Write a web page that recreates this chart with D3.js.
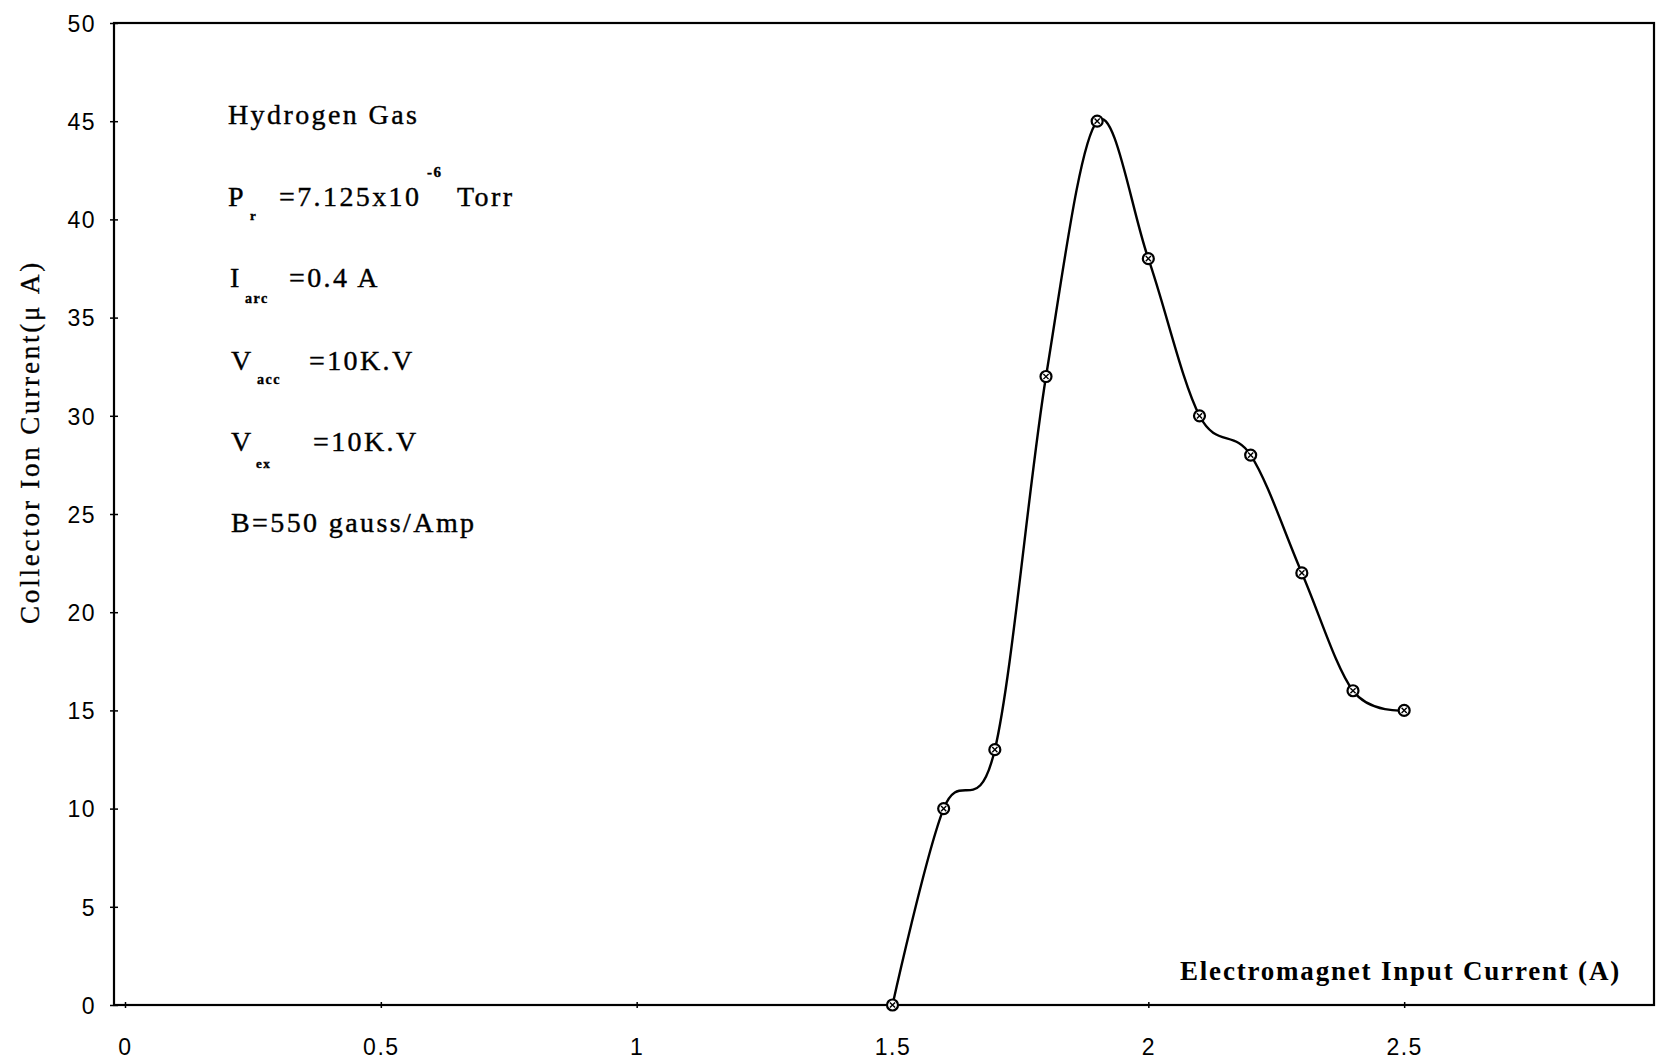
<!DOCTYPE html>
<html>
<head>
<meta charset="utf-8">
<script src="https://cdn.jsdelivr.net/npm/d3@7"></script>
<style>
  html, body { margin: 0; padding: 0; background: #fff; }
  svg { display: block; }
</style>
</head>
<body>
<svg id="chart" width="1656" height="1062"></svg>
<script>
// ---- data ----
const magnetCurrent = [1.5, 1.6, 1.7, 1.8, 1.9, 2.0, 2.1, 2.2, 2.3, 2.4, 2.5];
const ionCurrent    = [0, 10, 13, 32, 45, 38, 30, 28, 22, 16, 15];
const xTicks = [0, 0.5, 1, 1.5, 2, 2.5];
const xTickLabels = ["0", "0.5", "1", "1.5", "2", "2.5"];
const yTicks = [0, 5, 10, 15, 20, 25, 30, 35, 40, 45, 50];
const yTickLabels = ["0", "5", "10", "15", "20", "25", "30", "35", "40", "45", "50"];
const xTitle = "Electromagnet Input Current (A)";
const yTitle = "Collector Ion Current(\u03bc A)";

// ---- layout ----
const svg = d3.select("#chart");
const frame = {left: 114, top: 23, right: 1654, bottom: 1005};
const x = d3.scaleLinear().domain([0, 3]).range([125, 1660]);
const y = d3.scaleLinear().domain([0, 50]).range([frame.bottom, frame.top]);

const serif = "'Liberation Serif', 'Times New Roman', serif";
const sans = "'Liberation Sans', Arial, sans-serif";

// frame (plot area border)
svg.append("rect")
  .attr("x", frame.left).attr("y", frame.top)
  .attr("width", frame.right - frame.left)
  .attr("height", frame.bottom - frame.top)
  .attr("fill", "none").attr("stroke", "#000").attr("stroke-width", 2.2);

// y axis ticks + labels
const yAxis = d3.axisLeft(y).tickValues(yTicks)
  .tickFormat((d, i) => yTickLabels[i]).tickSize(4).tickPadding(14);
const gy = svg.append("g").attr("transform", `translate(${frame.left},0)`).call(yAxis);
gy.select(".domain").remove();
gy.selectAll(".tick line").attr("stroke", "#000").attr("stroke-width", 1.5).attr("x2", -4).attr("x1", 4);
gy.selectAll(".tick text")
  .attr("font-family", sans).attr("font-size", 23).attr("fill", "#000")
  .attr("letter-spacing", 1.5).attr("dy", "0.36em");

// x axis ticks + labels
const xAxis = d3.axisBottom(x).tickValues(xTicks)
  .tickFormat((d, i) => xTickLabels[i]).tickSize(4).tickPadding(30);
const gx = svg.append("g").attr("transform", `translate(0,${frame.bottom})`).call(xAxis);
gx.select(".domain").remove();
gx.selectAll(".tick line").attr("stroke", "#000").attr("stroke-width", 1.5).attr("y1", -3).attr("y2", 3);
gx.selectAll(".tick text")
  .attr("font-family", sans).attr("font-size", 23).attr("fill", "#000")
  .attr("letter-spacing", 1.5);

// data line (smoothed)
const pts = magnetCurrent.map((m, i) => [m, ionCurrent[i]]);
const line = d3.line().x(d => x(d[0])).y(d => y(d[1])).curve(d3.curveCardinal.tension(0));
svg.append("path").datum(pts)
  .attr("d", line).attr("fill", "none")
  .attr("stroke", "#000").attr("stroke-width", 2.4);

// markers
const mk = svg.append("g").selectAll("g").data(pts).join("g")
  .attr("transform", d => `translate(${x(d[0])},${y(d[1])})`);
mk.append("circle").attr("r", 5.5).attr("fill", "#fff").attr("stroke", "#000").attr("stroke-width", 2.2);
mk.append("path").attr("d", "M-2.6,-2.6L2.6,2.6M2.6,-2.6L-2.6,2.6")
  .attr("stroke", "#000").attr("stroke-width", 1.4);

// axis titles
svg.append("text")
  .attr("transform", "translate(39,442) rotate(-90)")
  .attr("text-anchor", "middle")
  .attr("font-family", serif).attr("font-size", 27).attr("letter-spacing", 2.8)
  .attr("stroke", "#000").attr("stroke-width", 0.35)
  .attr("fill", "#000").text(yTitle);

svg.append("text")
  .attr("x", 1621).attr("y", 980).attr("text-anchor", "end")
  .attr("font-family", serif).attr("font-size", 27).attr("font-weight", "bold")
  .attr("letter-spacing", 1.8)
  .attr("fill", "#000").text(xTitle);

// annotation block
const ann = svg.append("g").attr("font-family", serif).attr("fill", "#000")
  .attr("stroke", "#000").attr("stroke-width", 0.4);
function t(xp, yp, s, size, extra) {
  const el = ann.append("text").attr("x", xp).attr("y", yp)
    .attr("font-size", size).attr("letter-spacing", size > 20 ? 2.4 : 1.5).text(s);
  if (extra) el.attr("font-weight", extra);
  return el;
}
t(228, 124, "Hydrogen Gas", 28);
t(228, 206, "P", 28);
t(250, 220, "r", 13, "bold");
t(279, 206, "=7.125x10", 28);
t(427, 177, "-6", 15, "bold");
t(457, 206, "Torr", 28);
t(230, 287, "I", 28);
t(245, 303, "arc", 14, "bold");
t(289, 287, "=0.4 A", 28);
t(231, 370, "V", 28);
t(257, 384, "acc", 14, "bold");
t(309, 370, "=10K.V", 28);
t(231, 451, "V", 28);
t(256, 468, "ex", 13, "bold");
t(313, 451, "=10K.V", 28);
t(231, 532, "B=550 gauss/Amp", 28);
</script>
</body>
</html>
